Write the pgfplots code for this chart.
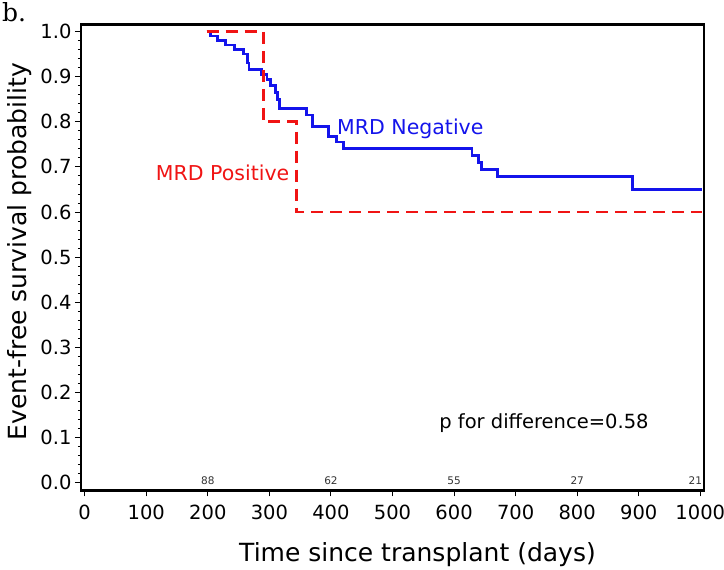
\documentclass[border=0pt]{standalone}
\usepackage{pgfplots}
\pgfplotsset{compat=1.18}
\usepackage{fontspec}
\setmainfont{DejaVu Sans}
\newfontfamily\serifb{DejaVu Serif}
\definecolor{kmblue}{RGB}{20,20,235}
\definecolor{kmred}{RGB}{240,20,20}
\begin{document}
\begin{tikzpicture}
\begin{axis}[
  at={(81pt,79.5pt)}, anchor=south west,
  scale only axis, width=623pt, height=466pt,
  xmin=-6, xmax=1006, ymin=-0.017, ymax=1.0155,
  xtick={0,100,...,1000},
  ytick={0,0.1,...,1.0},
  minor y tick num=4,
  tick align=outside,
  major tick length=6pt, minor tick length=3pt,
  xtick style={black, line width=0.9pt},
  ytick style={black, line width=0.9pt},
  axis line style={black, line width=2.6pt},
  /pgf/number format/assume math mode=true,
  /pgf/number format/1000 sep={},
  yticklabel style={/pgf/number format/.cd, fixed, fixed zerofill, precision=1},
  ticklabel style={font=\fontsize{19.5}{22}\selectfont},
  xticklabel style={yshift=-5pt},
  xtick pos=bottom, ytick pos=left,
  xlabel={Time since transplant (days)},
  ylabel={Event-free survival probability},
  label style={font=\fontsize{25}{28}\selectfont},
  xlabel style={yshift=-16pt, xshift=25pt},
  ylabel style={yshift=2pt, xshift=6pt},
  clip=false,
]
\addplot[kmblue, line width=2.8pt, const plot mark left, no marks] coordinates {
(198,1.0) (204,0.99) (216,0.98) (229,0.97) (243,0.96) (258,0.95) (265,0.93) (267,0.915)
(287,0.905) (296,0.893) (302,0.88) (310,0.865) (313,0.85) (316,0.83) (360,0.815)
(370,0.79) (396,0.768) (409,0.755) (420,0.74) (629,0.725) (640,0.71) (645,0.695)
(671,0.678) (890,0.65) (1003,0.65)
};
\addplot[kmred, line width=2.8pt, dash pattern=on 12pt off 7pt, const plot mark left, no marks] coordinates {
(198,1.0) (290,0.8) (344,0.6) (1003,0.6)
};
\node[kmblue, font=\fontsize{20.5}{22}\selectfont] at (axis cs:529,0.785) {MRD Negative};
\node[kmred, font=\fontsize{20.5}{22}\selectfont] at (axis cs:224,0.687) {MRD Positive};
\node[black, font=\fontsize{19.5}{22}\selectfont] at (axis cs:746,0.133) {p for difference=0.58};
\node[black!80, font=\fontsize{10.5}{12}\selectfont] at (axis cs:200,0.004) {88};
\node[black!80, font=\fontsize{10.5}{12}\selectfont] at (axis cs:400,0.004) {62};
\node[black!80, font=\fontsize{10.5}{12}\selectfont] at (axis cs:600,0.004) {55};
\node[black!80, font=\fontsize{10.5}{12}\selectfont] at (axis cs:800,0.004) {27};
\node[black!80, font=\fontsize{10.5}{12}\selectfont] at (axis cs:992,0.004) {21};
\end{axis}
\fill[black] (79.6pt,78.1pt) rectangle (705.4pt,80.9pt);
\fill[black] (79.6pt,544.1pt) rectangle (705.4pt,546.9pt);
\fill[black] (79.6pt,78.1pt) rectangle (82.4pt,546.9pt);
\fill[black] (702.6pt,78.1pt) rectangle (705.4pt,546.9pt);
\node[anchor=north west, inner sep=0pt, font=\serifb\fontsize{25}{26}\selectfont] at (2pt,568pt) {b.};
\pgfresetboundingbox
\path[use as bounding box] (0pt,0pt) rectangle (724pt,570pt);
\end{tikzpicture}
\end{document}
